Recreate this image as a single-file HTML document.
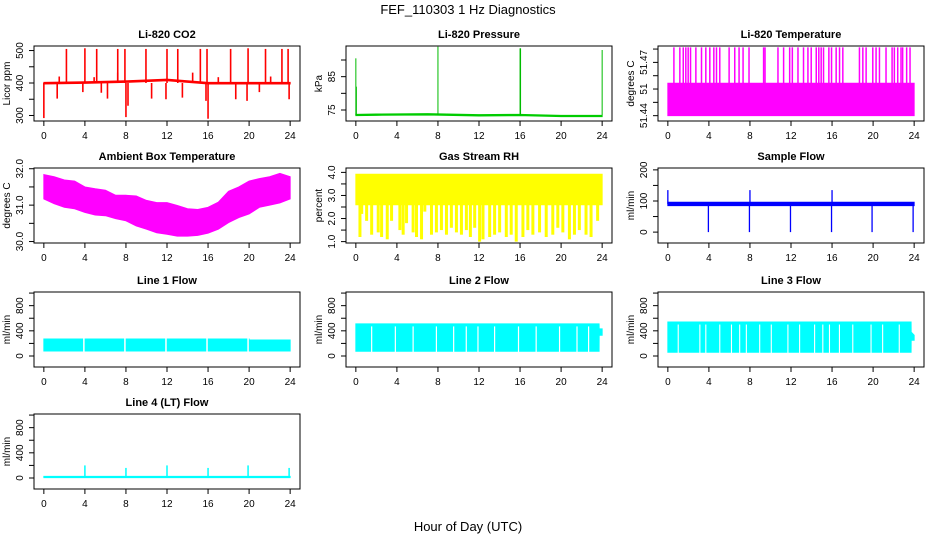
<!DOCTYPE html>
<html><head><meta charset="utf-8"><style>
html,body{margin:0;padding:0;background:#fff;}
svg{display:block;font-family:"Liberation Sans",sans-serif;}
</style></head><body>
<svg id="chart" width="936" height="540" viewBox="0 0 936 540">
<text x="468" y="14" text-anchor="middle" font-size="13">FEF_110303  1 Hz Diagnostics</text>
<text x="468" y="531" text-anchor="middle" font-size="13">Hour of Day (UTC)</text>
</svg>
<script>
// ---- data ----
const xTicks = [0,4,8,12,16,20,24];
// CO2
const co2Hours = [0,4,8,12,16,20,24];
const co2Hi = [402,404,407,412,402,402,402];
const co2Lo = [397,399,402,407,397,397,397];
const co2SpikeHours = [2.2,4.0,5.15,7.2,7.9,9.95,12.0,13.05,15.25,15.9,18.2,19.9,21.6,23.2,23.8,0.0,8.0,16.0,1.3,3.8,5.6,6.2,8.2,10.5,11.9,13.5,15.8,18.7,19.8,21.0,23.9,1.5,4.9,7.2,14.5,17.0,22.1];
const co2SpikeVals = [505,507,505,505,505,505,505,505,505,505,505,507,505,505,505,292,295,290,352,372,370,352,330,352,350,355,345,350,345,372,350,420,418,432,432,418,420];
// Pressure
const presHours = [0,2,7,12,16,20,24];
const presVals = [73.5,73.6,73.7,73.4,73.5,73.2,73.2];
const presSpikeHours = [0.0,0.05,8.0,16.0,16.05,24.0];
const presSpikeVals = [90.5,82,94,93.5,93.5,93];
// Li-820 temperature
const tempBase = 51.44;
const tempPlateau = 51.4643;
const tempSpikeTop = 51.4913;
const tempSpikeHours = [0.59,1.17,1.5,1.75,1.98,2.21,2.73,3.28,3.7,4.09,4.48,4.74,5.06,5.97,6.52,6.94,7.33,7.91,9.33,9.47,10.73,11.28,11.87,12.13,12.68,13.22,13.65,13.97,14.46,14.71,14.94,15.17,15.69,15.95,16.4,16.73,17.05,18.67,19.0,19.32,19.97,20.29,20.62,21.26,21.85,22.07,22.4,22.72,22.88,23.27,23.6];
// Ambient box temperature (hourly envelope)
const ambHours = [0,1,2,3,4,5,6,7,8,9,10,11,12,13,14,15,16,17,18,19,20,21,22,23,24];
const ambHi = [31.84,31.78,31.69,31.66,31.50,31.45,31.41,31.27,31.27,31.25,31.13,31.07,31.07,30.99,30.90,30.88,30.94,31.08,31.38,31.50,31.66,31.73,31.78,31.87,31.78];
const ambLo = [31.17,31.04,30.94,30.90,30.80,30.73,30.71,30.63,30.57,30.43,30.34,30.24,30.20,30.15,30.15,30.17,30.23,30.34,30.52,30.66,30.76,30.94,31.00,31.06,31.17];
// Gas stream RH
const rhHours = [0,24];
const rhHi = [3.92,3.92];
const rhLo = [2.6,2.6];
const rhSpikeHours = [0.40,0.57,1.05,1.54,2.18,2.51,3.06,3.48,4.29,4.61,4.94,5.58,5.91,6.40,6.72,7.37,7.85,8.34,8.83,9.31,9.80,10.29,10.77,11.16,11.58,12.06,12.39,13.04,13.52,14.01,14.66,15.14,15.63,16.28,16.76,17.25,17.90,18.55,19.19,19.68,20.17,20.81,21.30,21.78,22.43,22.92,23.56];
const rhSpikeVals = [1.2,2.2,1.9,1.3,1.4,1.2,1.1,1.9,1.5,1.3,1.8,1.4,1.2,1.1,2.3,1.3,1.4,1.5,1.3,1.6,1.4,1.3,1.5,1.2,1.6,1.0,1.1,1.2,1.3,1.4,1.2,1.3,1.0,1.2,1.5,1.3,1.4,1.2,1.3,1.6,1.4,1.1,1.3,1.5,1.3,1.2,1.9];
// Sample flow
const sfHours = [0,24];
const sfHi = [96,96];
const sfLo = [85,85];
const sfSpikeHours = [3.95,7.95,11.95,15.95,19.9,23.9,0.0,8.0,16.0];
const sfSpikeVals = [0,0,0,0,0,0,135,135,135];
// Line flows
const l1Hours = [0,20,20.01,24];
const l1Hi = [270,270,255,255];
const l1Lo = [80,80,80,80];
const l1Gaps = [3.9,7.9,11.9,15.9,19.9];
const l2Hours = [0,23.7,23.71,24];
const l2Hi = [510,510,430,430];
const l2Lo = [75,75,330,330];
const l2Gaps = [1.54,3.85,5.58,7.85,9.53,10.76,11.9,13.52,15.85,17.57,19.85,21.55,22.68];
const l3Hours = [0,23.7,23.71,24];
const l3Hi = [540,540,380,330];
const l3Lo = [60,60,250,250];
const l3Gaps = [1.01,3.12,3.70,5.06,6.2,7.0,7.65,8.95,10.08,11.70,12.84,14.3,15.1,15.75,16.72,18.02,19.80,20.93,22.55];
const l4Hours = [0,24];
const l4Hi = [25,25];
const l4Lo = [5,5];
const l4SpikeHours = [4.0,8.0,12.0,16.0,19.9,23.9];
const l4SpikeVals = [200,160,200,160,200,160];

// ---- layout ----
const svg = document.getElementById('chart');
const NS = 'http://www.w3.org/2000/svg';
const colX = [34,346,658], rowY = [46,168,292,414], W = 266, H = 75;
function mk(tag, attrs){ const e=document.createElementNS(NS,tag); for(const k in attrs) e.setAttribute(k,attrs[k]); return e; }

function panel(col,row,title,ylab,dom,ticks,labels){
  const L=colX[col], T=rowY[row];
  const g = mk('g',{});
  
  
  svg.appendChild(g);
  const xs = h => L + 9.85 + h*(W/25.92);
  const ys = v => T + H*(dom[1]-v)/(dom[1]-dom[0]);
  const t = mk('text',{x:L+W/2,y:T-8,'text-anchor':'middle','font-size':'11','font-weight':'bold'});
  t.textContent = title;
  
  
  g.appendChild(t);
  const box = mk('rect',{x:L,y:T,width:W,height:H,fill:'none',stroke:'#000','stroke-width':1});
  
  
  g.appendChild(box);
  const xa = mk('g',{});
  
  
  g.appendChild(xa);
  xa.appendChild(mk('line',{x1:xs(0),x2:xs(24),y1:T+H,y2:T+H,stroke:'#000'}));
  xTicks.forEach(h=>{
    xa.appendChild(mk('line',{x1:xs(h),x2:xs(h),y1:T+H,y2:T+H+5,stroke:'#000'}));
    const tl = mk('text',{x:xs(h),y:T+H+18,'text-anchor':'middle','font-size':'10'});
    tl.textContent = h;
    
    
    xa.appendChild(tl);
  });
  const ya = mk('g',{});
  
  
  g.appendChild(ya);
  ya.appendChild(mk('line',{x1:L,x2:L,y1:ys(ticks[0]),y2:ys(ticks[ticks.length-1]),stroke:'#000'}));
  ticks.forEach(v=>{ ya.appendChild(mk('line',{x1:L-5,x2:L,y1:ys(v),y2:ys(v),stroke:'#000'})); });
  labels.forEach(([v,s])=>{
    const yy=ys(v), xx=L-11;
    const tl = mk('text',{x:xx,y:yy,'text-anchor':'middle','font-size':'10',transform:`rotate(-90 ${xx} ${yy})`});
    tl.textContent = s;
    
    
    ya.appendChild(tl);
  });
  const yl = mk('text',{x:L-24,y:T+H/2,'text-anchor':'middle','font-size':'10',transform:`rotate(-90 ${L-24} ${T+H/2})`});
  yl.textContent = ylab;
  
  
  ya.appendChild(yl);
  const data = mk('g',{});
  
  
  g.appendChild(data);
  return {g:data,xs,ys};
}
function band(p,hours,hi,lo,color){
  let d='M'+hours.map((h,i)=>p.xs(h)+','+p.ys(hi[i])).join('L');
  for(let i=hours.length-1;i>=0;i--) d+='L'+p.xs(hours[i])+','+p.ys(lo[i]);
  const e = mk('path',{d:d+'Z',fill:color,stroke:color,'stroke-width':1});
  
  
  p.g.appendChild(e);
}
function spikes(p,hours,vals,base,color,w){
  hours.forEach((h,i)=>{
    const e = mk('line',{x1:p.xs(h),x2:p.xs(h),y1:p.ys(base),y2:p.ys(vals[i]),stroke:color,'stroke-width':w||1.3});
    
    
    p.g.appendChild(e);
  });
}
function gaps(p,hours,hiV,loV,w){
  hours.forEach(h=>{
    const e = mk('line',{x1:p.xs(h),x2:p.xs(h),y1:p.ys(hiV),y2:p.ys(loV),stroke:'#fff','stroke-width':w||1.5});
    
    
    p.g.appendChild(e);
  });
}
const flowTicks=[0,200,400,600,800,1000], flowLabels=[[0,'0'],[400,'400'],[800,'800']], flowDom=[-175,1017];

let p = panel(0,0,'Li-820 CO2','Licor ppm',[283,514],[300,350,400,450,500],[[300,'300'],[400,'400'],[500,'500']]);
band(p,co2Hours,co2Hi,co2Lo,'#ff0000');
spikes(p,co2SpikeHours,co2SpikeVals,400,'#ff0000',1.6);
p = panel(1,0,'Li-820 Pressure','kPa',[71.7,94.2],[75,80,85,90],[[75,'75'],[85,'85']]);
band(p,presHours,presVals.map(v=>v+0.2),presVals.map(v=>v-0.2),'#00cc00');
spikes(p,presSpikeHours,presSpikeVals,73.5,'#00bb00',1);
p = panel(2,0,'Li-820 Temperature','degrees C',[51.436,51.4923],[51.44,51.45,51.46,51.47,51.48,51.49],[[51.44,'51.44'],[51.46,'51'],[51.48,'51.47']]);
band(p,[0,24],[tempPlateau,tempPlateau],[tempBase,tempBase],'#ff00ff');
spikes(p,tempSpikeHours,tempSpikeHours.map(()=>tempSpikeTop),tempPlateau,'#ff00ff',1.5);
p = panel(0,1,'Ambient Box Temperature','degrees C',[29.96,32.02],[30,30.5,31,31.5,32],[[30,'30.0'],[31,'31.0'],[32,'32.0']]);
band(p,ambHours,ambHi,ambLo,'#ff00ff');
p = panel(1,1,'Gas Stream RH','percent',[0.94,4.19],[1,1.5,2,2.5,3,3.5,4],[[1,'1.0'],[2,'2.0'],[3,'3.0'],[4,'4.0']]);
band(p,rhHours,rhHi,rhLo,'#ffff00');
spikes(p,rhSpikeHours,rhSpikeVals,3.0,'#ffff00',3);
p = panel(2,1,'Sample Flow','ml/min',[-35,206],[0,50,100,150,200],[[0,'0'],[100,'100'],[200,'200']]);
band(p,sfHours,sfHi,sfLo,'#0000ff');
spikes(p,sfSpikeHours,sfSpikeVals,90,'#0000ff',1.3);
p = panel(0,2,'Line 1 Flow','ml/min',flowDom,flowTicks,flowLabels);
band(p,l1Hours,l1Hi,l1Lo,'#00ffff');
gaps(p,l1Gaps,290,60,1.5);
p = panel(1,2,'Line 2 Flow','ml/min',flowDom,flowTicks,flowLabels);
band(p,l2Hours,l2Hi,l2Lo,'#00ffff');
gaps(p,l2Gaps,470,60,1.2);
p = panel(2,2,'Line 3 Flow','ml/min',flowDom,flowTicks,flowLabels);
band(p,l3Hours,l3Hi,l3Lo,'#00ffff');
gaps(p,l3Gaps,500,40,1.1);
p = panel(0,3,'Line 4 (LT) Flow','ml/min',flowDom,flowTicks,flowLabels);
band(p,l4Hours,l4Hi,l4Lo,'#00ffff');
spikes(p,l4SpikeHours,l4SpikeVals,15,'#00ffff',1.5);
</script>
</body></html>
